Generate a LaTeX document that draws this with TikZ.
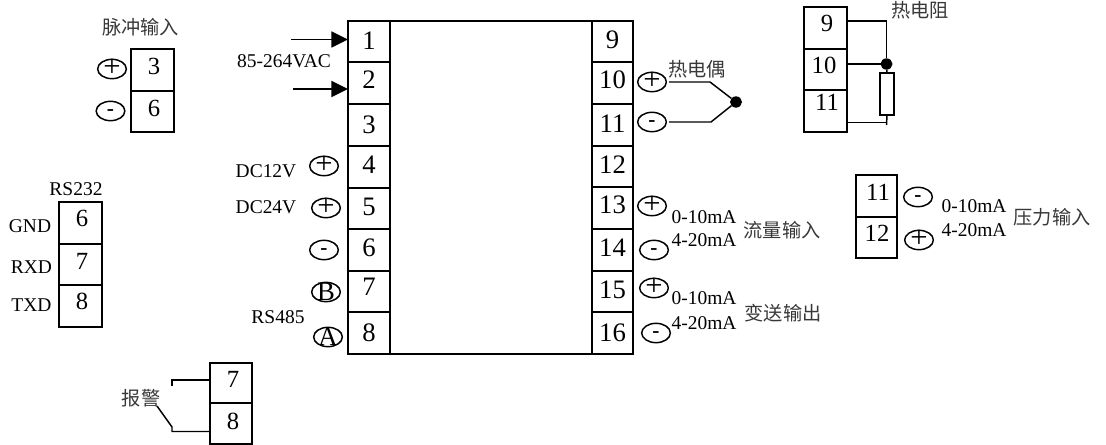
\documentclass[tikz,border=0pt]{standalone}
\usepackage{fontspec}
\setmainfont{Liberation Serif}
\newfontfamily\cjk{Noto Sans CJK SC}
\usetikzlibrary{shapes.geometric,arrows.meta}
\newcommand{\midtext}[2]{\raisebox{-#1em}[0pt][0pt]{\makebox[0pt]{#2}}}
\tikzset{
  cellbox/.style={draw=black,line width=1.35pt,inner sep=0pt,outer sep=0pt},
  numtext/.style={inner sep=0pt,font=\fontsize{20pt}{21pt}\selectfont},
  numsmall/.style={inner sep=0pt,font=\fontsize{18.5pt}{19pt}\selectfont},
  lab/.style={inner sep=0pt,font=\fontsize{14.6pt}{16pt}\selectfont},
  cjklab/.style={inner sep=0pt,text=black!78,font=\cjk\fontsize{14.4pt}{16pt}\selectfont},
  pole/.style={ellipse,draw=black,line width=1.1pt,inner sep=0pt,outer sep=0pt,minimum width=21.5pt,minimum height=14.5pt},
  wire/.style={draw=black,line width=1.1pt},
  power/.style={draw=black,line width=1.35pt,-{Triangle[length=12.5pt,width=12pt]}},
  joint/.style={ellipse,fill=black,inner sep=0pt,outer sep=0pt,minimum width=9pt,minimum height=8.5pt}
}
% name, x0, x1, y0, y1, text, text x, text y, text style
\newcommand{\tcell}[9]{%
  \node[cellbox,minimum width={(#3-#2)*0.75pt},minimum height={(#5-#4)*0.75pt}] (#1) at ({(#2+#3)/2},{(#4+#5)/2}) {};
  \node[#9] (#1t) at (#7,#8) {#6};
}
\newcommand{\polep}[2]{\node[pole] (#1) at (#2) {\fontsize{23pt}{23pt}\selectfont\midtext{.25}{+}};}
\newcommand{\polem}[2]{\node[pole] (#1) at (#2) {\fontsize{16pt}{16pt}\selectfont\bfseries\midtext{.2}{-}};}
\newcommand{\polel}[3]{\node[pole] (#1) at (#2) {\fontsize{20pt}{20pt}\selectfont\midtext{.33}{#3}};}
\begin{document}
\begin{tikzpicture}[x=0.75pt,y=-0.75pt]
\useasboundingbox (0,0) rectangle (1106,445);
% main block
\coordinate (tl) at (390,21); \coordinate (tr) at (592,21);
\coordinate (bl) at (390,354); \coordinate (br) at (592,354);
\draw[cellbox] (tl) -- (tr) (bl) -- (br);
\tcell{m1}{348}{390}{21}{62}{1}{369}{41}{numtext}
\tcell{m2}{348}{390}{62}{104}{2}{369}{80}{numtext}
\tcell{m3}{348}{390}{104}{146}{3}{369}{125}{numtext}
\tcell{m4}{348}{390}{146}{188}{4}{369}{165}{numtext}
\tcell{m5}{348}{390}{188}{229}{5}{369}{207}{numtext}
\tcell{m6}{348}{390}{229}{271}{6}{369}{248}{numtext}
\tcell{m7}{348}{390}{271}{312}{7}{369}{287}{numtext}
\tcell{m8}{348}{390}{312}{354}{8}{369}{333}{numtext}
\tcell{m9}{592}{633}{21}{62}{9}{612.5}{40}{numtext}
\tcell{m10}{592}{633}{62}{104}{10}{612.5}{80}{numtext}
\tcell{m11}{592}{633}{104}{146}{11}{612.5}{124}{numtext}
\tcell{m12}{592}{633}{146}{187}{12}{612.5}{165}{numtext}
\tcell{m13}{592}{633}{187}{229}{13}{612.5}{205}{numtext}
\tcell{m14}{592}{633}{229}{271}{14}{612.5}{248}{numtext}
\tcell{m15}{592}{633}{271}{312}{15}{612.5}{290}{numtext}
\tcell{m16}{592}{633}{312}{354}{16}{612.5}{333}{numtext}
% power arrows
\coordinate (a1) at (291,39.5); \coordinate (a2) at (293,89);
\draw[power] (a1) -- (a1 -| m1.west);
\draw[power] (a2) -- (a2 -| m2.west);
\node[lab] (vac) at (284,61) {85-264VAC};
% left poles of main block
\node[lab] (dc12) at (266,171) {DC12V};
\node[lab] (dc24) at (266,207) {DC24V};
\node[lab] (r485) at (278,317) {RS485};
\polep{p4}{324,166}
\polep{p5}{326,208}
\polem{p6}{324,250}
\polel{pb}{326,292}{B}
\polel{pa}{328,337}{A}
% pulse input
\node[cjklab] (pulse) at (140.5,27) {脉冲输入};
\tcell{pu3}{131}{174}{49}{91}{3}{154}{66}{numsmall}
\tcell{pu6}{131}{174}{91}{132}{6}{154}{108}{numsmall}
\polep{pup}{112,69}
\polem{pum}{110.5,111}
% RS232
\node[lab] (r232) at (76,189) {RS232};
\tcell{c6}{59}{102}{202}{244}{6}{82}{218}{numsmall}
\tcell{c7}{59}{102}{244}{285}{7}{82}{261}{numsmall}
\tcell{c8}{59}{102}{285}{327}{8}{82}{301}{numsmall}
\node[lab] (gnd) at (30,226) {GND};
\node[lab] (rxd) at (31.5,267) {RXD};
\node[lab] (txd) at (31.5,305) {TXD};
% alarm
\tcell{al7}{210}{252}{363}{403}{7}{233}{379}{numsmall}
\tcell{al8}{210}{252}{403}{444}{8}{233}{421}{numsmall}
\node[cjklab] (alarm) at (141,398) {报警};
\coordinate (alA) at (172,380); \coordinate (alA2) at (172,386);
\coordinate (alB) at (172,431.5); \coordinate (alB2) at (172,427); \coordinate (alB3) at (157,406);
\draw[wire] (alA -| al7.west) -- (alA) -- (alA2);
\draw[wire] (alB -| al8.west) -- (alB) -- (alB2) -- (alB3);
% thermocouple
\polep{tcp}{652,82}
\polem{tcm}{652,122}
\node[cjklab] (tc) at (697,69) {热电偶};
\node[joint] (tcd) at (736,102) {};
\coordinate (tc1) at (710,82); \coordinate (tc2) at (711,122);
\draw[wire,shorten <=2pt] (tcp.east) -- (tc1) -- (tcd);
\draw[wire,shorten <=2pt] (tcm.east) -- (tc2) -- (tcd);
% RTD
\tcell{rt9}{804}{847}{7}{49}{9}{827}{23}{numsmall}
\tcell{rt10}{804}{847}{49}{90}{10}{824}{65}{numsmall}
\tcell{rt11}{804}{847}{90}{132}{11}{827}{102}{numsmall}
\node[cjklab] (rtd) at (920,10) {热电阻};
\node[joint] (rtj) at (886.5,64) {};
\node[draw=black,line width=1.35pt,inner sep=0pt,outer sep=0pt,minimum width=10.5pt,minimum height=31.5pt] (res) at (887,94) {};
\coordinate (rt1) at (886.5,21); \coordinate (rt2) at (886.5,122.5); \coordinate (rt3) at (886.5,125);
\draw[wire] (rt1 -| rt9.east) -- (rt1) -- (rtj);
\draw[wire] (rtj -| rt10.east) -- (rtj);
\draw[wire] (rtj) -- (res.north);
\draw[wire] (res.south) -- (rt3);
\draw[wire] (rt2 -| rt11.east) -- (rt2);
% flow input and transmitter output
\polep{p13}{652,206}
\polem{p14}{654,250}
\polep{p15}{654,288}
\polem{p16}{656,333}
\node[lab] (f1) at (704,217) {0-10mA};
\node[lab] (f2) at (704,240) {4-20mA};
\node[cjklab] (flow) at (782,230) {流量输入};
\node[lab] (o1) at (704,298) {0-10mA};
\node[lab] (o2) at (704,323) {4-20mA};
\node[cjklab] (out) at (783,313) {变送输出};
% pressure input
\tcell{pr11}{856}{897}{175}{217}{11}{878}{192}{numsmall}
\tcell{pr12}{856}{897}{217}{258}{12}{877}{233}{numsmall}
\polem{prm}{918,197}
\polep{prp}{919,240}
\node[lab] (g1) at (974,206) {0-10mA};
\node[lab] (g2) at (974,230) {4-20mA};
\node[cjklab] (press) at (1052,217) {压力输入};
\end{tikzpicture}
\end{document}
